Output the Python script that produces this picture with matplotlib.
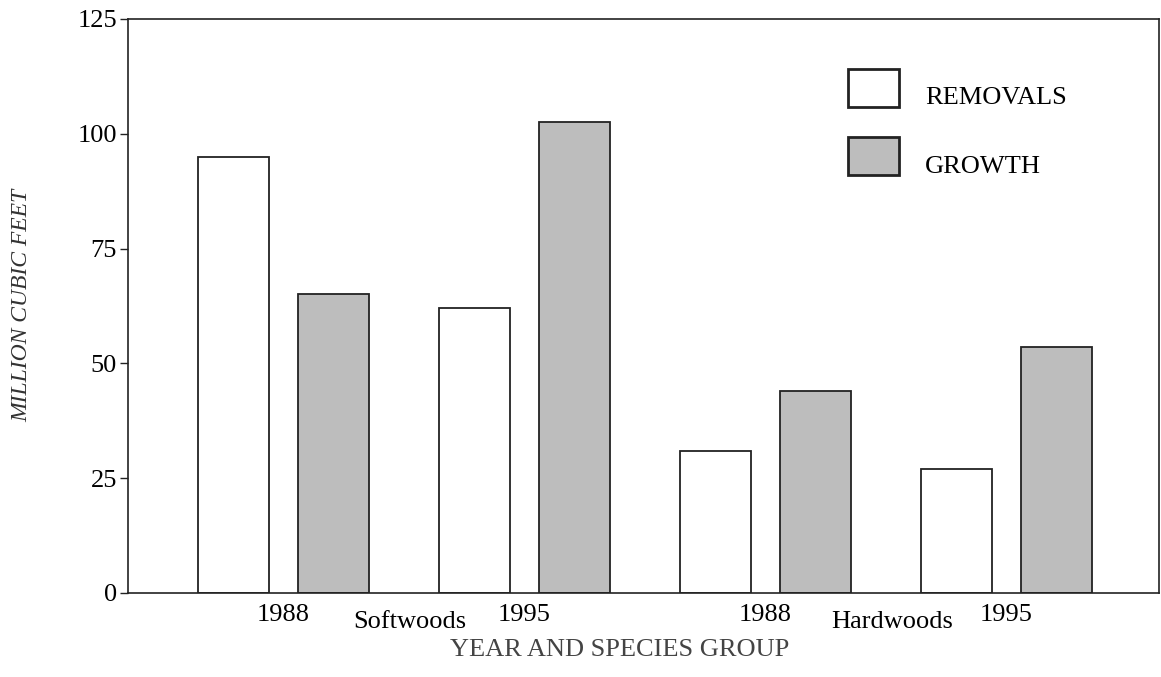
import matplotlib
matplotlib.use("Agg")
import matplotlib.pyplot as plt
from matplotlib.patches import Rectangle
from matplotlib.transforms import blended_transform_factory
import numpy as np

# Values (million cubic feet).
groups = ["Softwoods", "Hardwoods"]
years = ["1988", "1995", "1988", "1995"]
removals = [95, 62, 31, 27]
growth = [65, 102.5, 44, 53.5]
y_ticks = [0, 25, 50, 75, 100, 125]

plt.rcParams["font.family"] = ["Liberation Serif", "DejaVu Serif"]

GROWTH_GREY = "#bdbdbd"
EDGE = "#222222"
FS = 19


def script():
    fig = plt.figure(figsize=(11.61, 6.77), dpi=100)
    ax = fig.add_axes([0.1102, 0.1241, 0.888, 0.8479])

    # Bars are placed in pairs, with a wider gap between the year pairs.
    pair_step = 2.41
    bar_gap = 1.0
    width = 0.71
    x_rem = 1.055 + pair_step * np.arange(len(removals))
    x_gro = x_rem + bar_gap

    ax.bar(x_rem, removals, width=width, color="white", edgecolor=EDGE, linewidth=1.3)
    ax.bar(x_gro, growth, width=width, color=GROWTH_GREY, edgecolor=EDGE, linewidth=1.3)

    ax.set_xlim(0, 10.31)
    ax.set_ylim(0, 125)

    # Year labels under each pair.
    year_pos = (x_rem + x_gro) / 2
    ax.set_xticks(year_pos)
    ax.set_xticklabels(years, fontsize=FS)
    ax.tick_params(axis="x", length=0, pad=8)

    ax.set_yticks(y_ticks)
    ax.set_yticklabels([str(t) for t in y_ticks], fontsize=FS)
    ax.tick_params(axis="y", direction="out", length=6, width=1.0, pad=2, color=EDGE)

    # Species group labels sit a bit below the years.
    trans = blended_transform_factory(ax.transData, ax.transAxes)
    for k, name in enumerate(groups):
        gx = year_pos[2 * k:2 * k + 2].mean() + 0.06
        ax.text(gx, -0.05, name, transform=trans, ha="center", va="center", fontsize=FS)

    for spine in ax.spines.values():
        spine.set_linewidth(1.2)
        spine.set_color(EDGE)

    # Axis titles.
    fig.text(620 / 1161, 1 - 650 / 677, "YEAR AND SPECIES GROUP", fontsize=FS,
             color="#444444", ha="center", va="center")
    fig.text(22 / 1161, 1 - 305 / 677, "MILLION CUBIC FEET", fontsize=17,
             fontstyle="italic", color="#333333", rotation=90, ha="center", va="center")

    # Legend drawn by hand: the labels sit slightly lower than the swatches.
    legend_items = [("REMOVALS", "white", 0.8467, 0.8624),
                    ("GROWTH", GROWTH_GREY, 0.7282, 0.7422)]
    for label, face, box_y, text_y in legend_items:
        ax.add_patch(Rectangle((0.6984, box_y), 0.0495, 0.0662, transform=ax.transAxes,
                               facecolor=face, edgecolor=EDGE, linewidth=2.0))
        ax.text(0.7730, text_y, label, transform=ax.transAxes, ha="left", va="center",
                fontsize=FS)

    fig.savefig("out.png", dpi=100)


if __name__ == "__main__":
    script()
